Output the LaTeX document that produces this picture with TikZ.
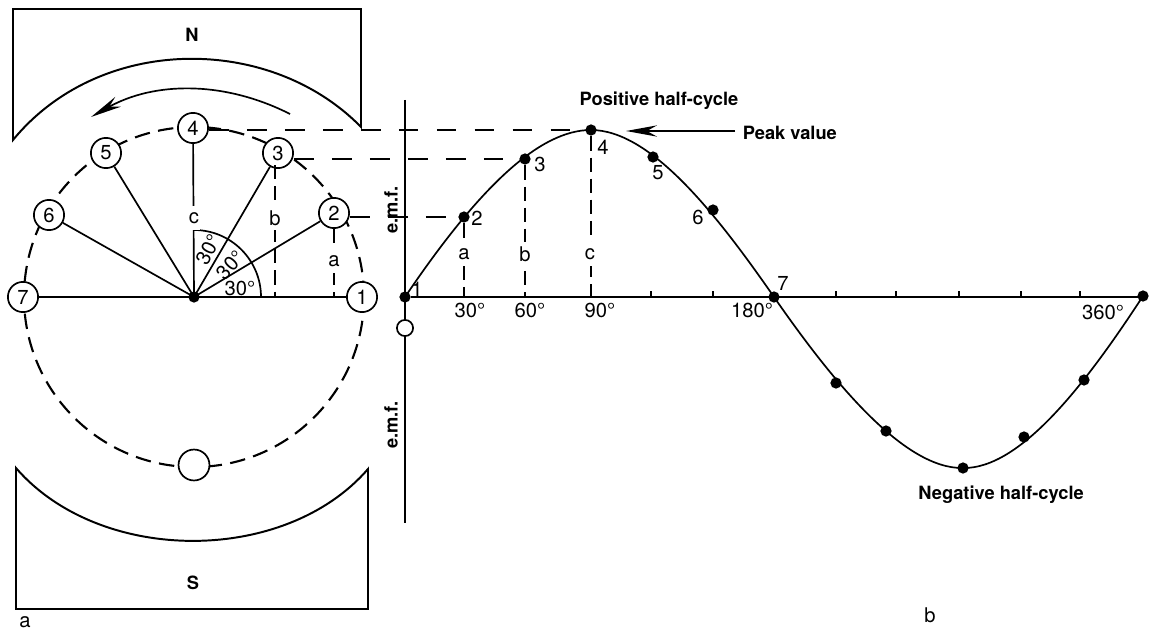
\documentclass[tikz,border=0pt]{standalone}
\usepackage{fontspec}
\setmainfont{TeX Gyre Heros}
\usetikzlibrary{arrows.meta}
\begin{document}
\begin{tikzpicture}[
  x=0.025cm,y=-0.025cm,
  every node/.style={font=\Large},
  line width=1.2pt,
  num/.style={draw,circle,fill=white,minimum size=21.5pt,inner sep=0pt,line width=1.2pt},
  dot/.style={circle,fill=black,minimum size=8pt,inner sep=0pt},
  lab/.style={fill=white,inner sep=0pt,minimum height=17pt,minimum width=8pt},
  txt/.style={inner sep=0pt,font=\fontsize{13}{15}\selectfont\bfseries},
  dsh/.style={dash pattern=on 14pt off 13pt},
  vdsh/.style={dash pattern=on 10pt off 5pt},
  rimdsh/.style={dash pattern=on 11pt off 6pt,line width=1.5pt},
  tip/.style={-{Stealth[length=22pt,width=8pt]}}
]
\useasboundingbox (0,0) rectangle (1154,630);

\draw[line width=1.4pt] (13,140) -- (13,9) -- (361,9) -- (361,127) .. controls (270,34) and (100,34) .. cycle;
\draw[line width=1.4pt] (16,468) .. controls (100,565) and (285,565) .. (368,469) -- (368,609) -- (16,609) -- cycle;
\node[txt] (n) at (192,35) {N};
\node[txt] (s) at (193,583) {S};

\coordinate (arrs) at (290,114);
\coordinate (arre) at (91,117);
\draw[tip] (arrs) .. controls (225,81) and (155,81) .. (arre);

\coordinate (o) at (194,297);
\draw[rimdsh] (o) circle [radius=170];
\node[num,minimum size=22pt] (z) at (194,465) {};
\node[num] (r1) at (362,297) {1};
\node[num] (r2) at (334,213) {2};
\node[num] (r3) at (278,153) {3};
\node[num] (r4) at (193,128) {4};
\node[num] (r5) at (106,153) {5};
\node[num] (r6) at (49,215) {6};
\node[num] (r7) at (23,297) {7};
\foreach \i in {1,...,7} \draw (o) -- (r\i);
\node[dot] (od) at (o) {};
\draw (261,297) arc [start angle=0,end angle=-90,radius=67];
\node[inner sep=0pt] (d1) at (240,288) {30°};
\node[inner sep=0pt,rotate=48] (d2) at (230,265) {30°};
\node[inner sep=0pt,rotate=62] (d3) at (208,250) {30°};

\draw[vdsh] (r2) -- (r2 |- o);
\draw[vdsh] (275,165) -- (275,297);
\node[lab] (ra) at (334,261) {a};
\node[lab] (rb) at (275,218) {b};
\node[lab] (rc) at (194,218) {c};

\node[dot] (p1) at (405,297) {};
\node[dot] (p2) at (464,217) {};
\node[dot] (p3) at (525,159) {};
\node[dot] (p4) at (591,130) {};
\node[dot] (p5) at (653,157) {};
\node[dot] (p6) at (713,210) {};
\node[dot] (p7) at (774,297) {};
\node[dot] (p8) at (836,383) {};
\node[dot] (p9) at (886,431) {};
\node[dot] (p10) at (963,468) {};
\node[dot] (p11) at (1024,437) {};
\node[dot] (p12) at (1084,380) {};
\node[dot] (p13) at (1143,296) {};

\draw (405,100) -- (405,523);
\node[num,minimum size=11.5pt] (oc) at (405,328) {};
\draw (p1) -- (p13 |- p1);
\draw (p1.center) .. controls (480,186) and (540,130) .. (p4.center)
  .. controls (650,130) and (715,212) .. (p7.center)
  .. controls (835,385) and (905,469) .. (p10.center)
  .. controls (1020,469) and (1085,385) .. (p13.center);

\foreach \x in {651,713,836,896,959,1021,1080} \draw[line width=0.8pt] (\x,291) -- (\x,297);

\draw[dsh] (r4.east |- p4) -- (p4);
\draw[dsh] (r3.east |- p3) -- (p3);
\draw[dsh] (r2.east |- p2) -- (p2);
\draw[vdsh] (p2) -- (p2 |- p1);
\draw[vdsh] (p3) -- (p3 |- p1);
\draw[vdsh] (p4) -- (p4 |- p1);
\node[lab] (a) at (464,254) {a};
\node[lab] (b) at (525,254) {b};
\node[lab] (c) at (590,254) {c};

\node[inner sep=0pt] (l1) at (417,289) {1};
\node[inner sep=0pt] (l2) at (477,218) {2};
\node[inner sep=0pt] (l3) at (540,164) {3};
\node[inner sep=0pt] (l4) at (603,147) {4};
\node[inner sep=0pt] (l5) at (658,173) {5};
\node[inner sep=0pt] (l6) at (698,217) {6};
\node[inner sep=0pt] (l7) at (783,283) {7};
\node[inner sep=0pt] (x30) at (470,310) {30°};
\node[inner sep=0pt] (x60) at (530,310) {60°};
\node[inner sep=0pt] (x90) at (600,310) {90°};
\node[inner sep=0pt] (x180) at (752,310) {180°};
\node[inner sep=0pt] (x360) at (1103,312) {360°};

\node[txt] (pos) at (659,101) {Positive half-cycle};
\node[txt] (neg) at (1001,495) {Negative half-cycle};
\node[txt,anchor=west] (peak) at (742,133) {Peak value};
\coordinate (peakend) at (735,131);
\coordinate (peaktip) at (626,131);
\draw[tip] (peakend) -- (peaktip);
\node[txt,rotate=90] (e1) at (391,210) {e.m.f.};
\node[txt,rotate=90] (e2) at (391,425) {e.m.f.};
\node[inner sep=0pt] (pa) at (25,622) {a};
\node[inner sep=0pt] (pb) at (930,615) {b};
\end{tikzpicture}
\end{document}
